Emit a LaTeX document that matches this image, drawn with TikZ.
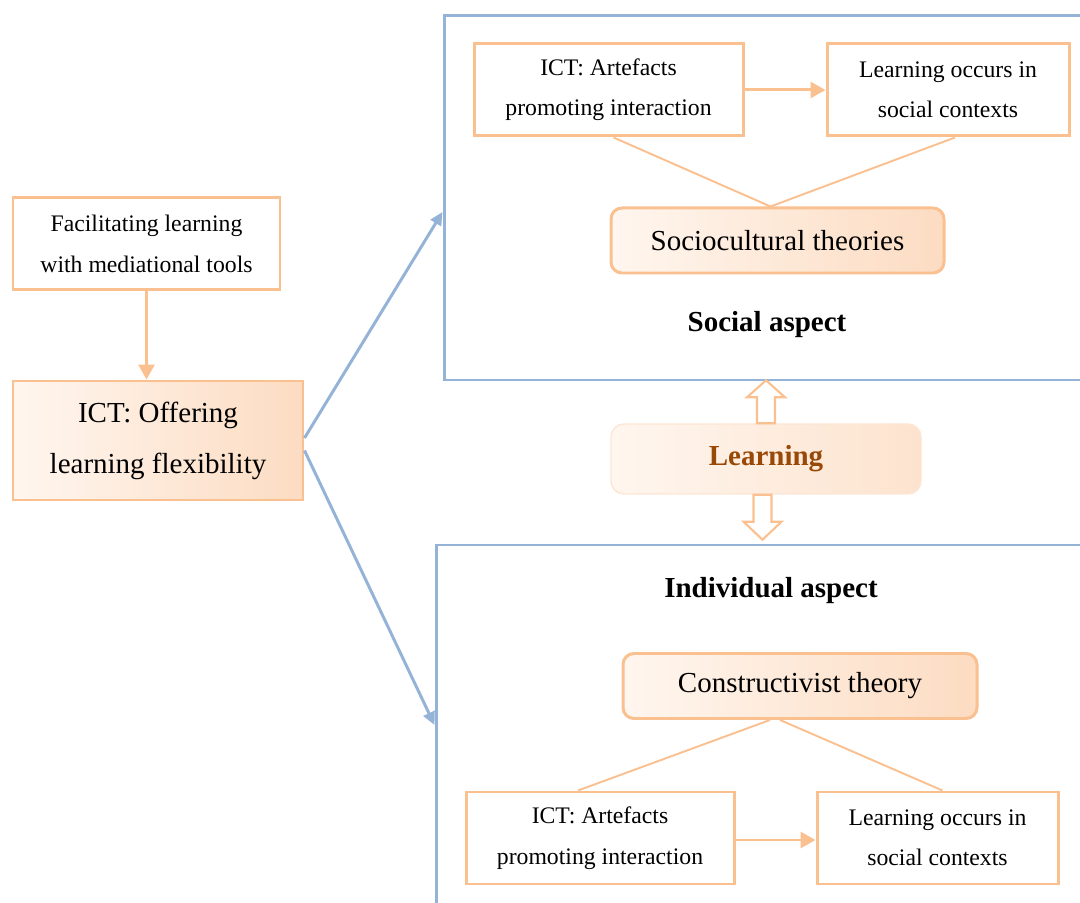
\documentclass[tikz,border=0pt]{standalone}
\usepackage{fontspec}
\setmainfont{Liberation Serif}
\usetikzlibrary{arrows.meta}

\definecolor{peachline}{HTML}{FAC090}
\definecolor{peachL}{HTML}{FFF6EF}
\definecolor{peachR}{HTML}{FCDCC2}
\definecolor{aspectline}{HTML}{95B3D7}
\definecolor{learnline}{HTML}{FCE6D4}
\definecolor{learntext}{HTML}{984807}

\begin{document}
\begin{tikzpicture}[
    smallbox/.style={draw=peachline, line width=1.7pt, fill=white, inner sep=0pt,
        minimum height=1.84cm, align=center, font=\fontsize{13.5}{23}\selectfont},
    bigbox/.style={draw=peachline, line width=1.7pt, left color=peachL, right color=peachR,
        inner sep=0pt, align=center, font=\fontsize{16.5}{29}\selectfont},
    theory/.style={bigbox, rounded corners=0.22cm, minimum height=1.3cm},
    aspectbox/.style={draw=aspectline, line width=1.7pt, inner sep=0pt},
    aspectlabel/.style={font=\fontsize{16.5}{20}\selectfont\bfseries},
    link/.style={draw=peachline, line width=1.1pt},
    peacharrow/.style={draw=peachline, line width=1.7pt, -{Triangle[length=0.3cm, width=0.32cm]}},
    bluearrow/.style={draw=aspectline, line width=1.7pt, -{Triangle[length=0.26cm, width=0.24cm]}},
    hollow/.style={draw=peachline, line width=1.2pt, fill=white, line join=miter}
]
\useasboundingbox (0,0) rectangle (21.6,18.04);

% left column
\node[smallbox, minimum width=5.34cm] (facil) at (2.93,13.16)
    {Facilitating learning\\with mediational tools};
\node[bigbox, minimum width=5.8cm, minimum height=2.38cm] (offer) at (3.16,9.23)
    {ICT: Offering\\learning flexibility};
\draw[peacharrow] (facil.south) -- (facil.south |- offer.north);

% social aspect
\node[aspectbox, minimum width=12.92cm, minimum height=7.28cm] (social) at (15.34,14.08) {};
\node[smallbox, minimum width=5.38cm] (sict) at (12.17,16.24)
    {ICT: Artefacts\\promoting interaction};
\node[smallbox, minimum width=4.84cm] (slearn) at (18.96,16.24)
    {Learning occurs in\\social contexts};
\node[theory, minimum width=6.66cm] (socio) at (15.55,13.23) {Sociocultural theories};
\node[aspectlabel] (slabel) at (15.34,11.54) {Social aspect};
\draw[peacharrow] (sict.east) -- (slearn.west);
\draw[link] ([xshift=0.1cm]sict.south) -- ([xshift=-0.14cm]socio.north);
\draw[link] ([xshift=0.14cm]slearn.south) -- ([xshift=-0.14cm]socio.north);

% learning in the middle
\node[draw=learnline, line width=0.8pt, rounded corners=0.26cm, left color=peachL,
    right color=peachR!80!white, minimum width=6.2cm, minimum height=1.4cm,
    font=\fontsize{16.5}{20}\selectfont\bfseries, text=learntext] (learn) at (15.32,8.86) {Learning};
\draw[hollow] ([xshift=-0.18cm]learn.north) -- ++(0,0.52) -- ++(-0.2,0) -- ++(0.38,0.34)
    -- ++(0.38,-0.34) -- ++(-0.2,0) -- ++(0,-0.52) -- cycle;
\draw[hollow] ([xshift=-0.25cm]learn.south) -- ++(0,-0.54) -- ++(-0.2,0) -- ++(0.38,-0.36)
    -- ++(0.38,0.36) -- ++(-0.2,0) -- ++(0,0.54) -- cycle;

% individual aspect
\node[aspectbox, minimum width=13.08cm, minimum height=7.34cm] (indiv) at (15.26,3.47) {};
\node[aspectlabel] (ilabel) at (15.42,6.22) {Individual aspect};
\node[theory, minimum width=7.08cm] (constr) at (16.0,4.32) {Constructivist theory};
\node[smallbox, minimum width=5.36cm] (iict) at (12.0,1.28)
    {ICT: Artefacts\\promoting interaction};
\node[smallbox, minimum width=4.82cm] (ilearn) at (18.75,1.28)
    {Learning occurs in\\social contexts};
\draw[peacharrow] ([yshift=-0.04cm]iict.east) -- ([yshift=-0.04cm]ilearn.west);
\draw[link] ([xshift=-0.44cm]iict.north) -- ([xshift=-0.6cm]constr.south);
\draw[link] ([xshift=0.1cm]ilearn.north) -- ([xshift=-0.4cm]constr.south);

% branches to both aspects
\draw[bluearrow] ([yshift=0.05cm]offer.east) -- ([yshift=-0.28cm]social.west);
\draw[bluearrow] ([yshift=-0.2cm]offer.east) -- ([yshift=0.07cm]indiv.west);
\end{tikzpicture}
\end{document}
